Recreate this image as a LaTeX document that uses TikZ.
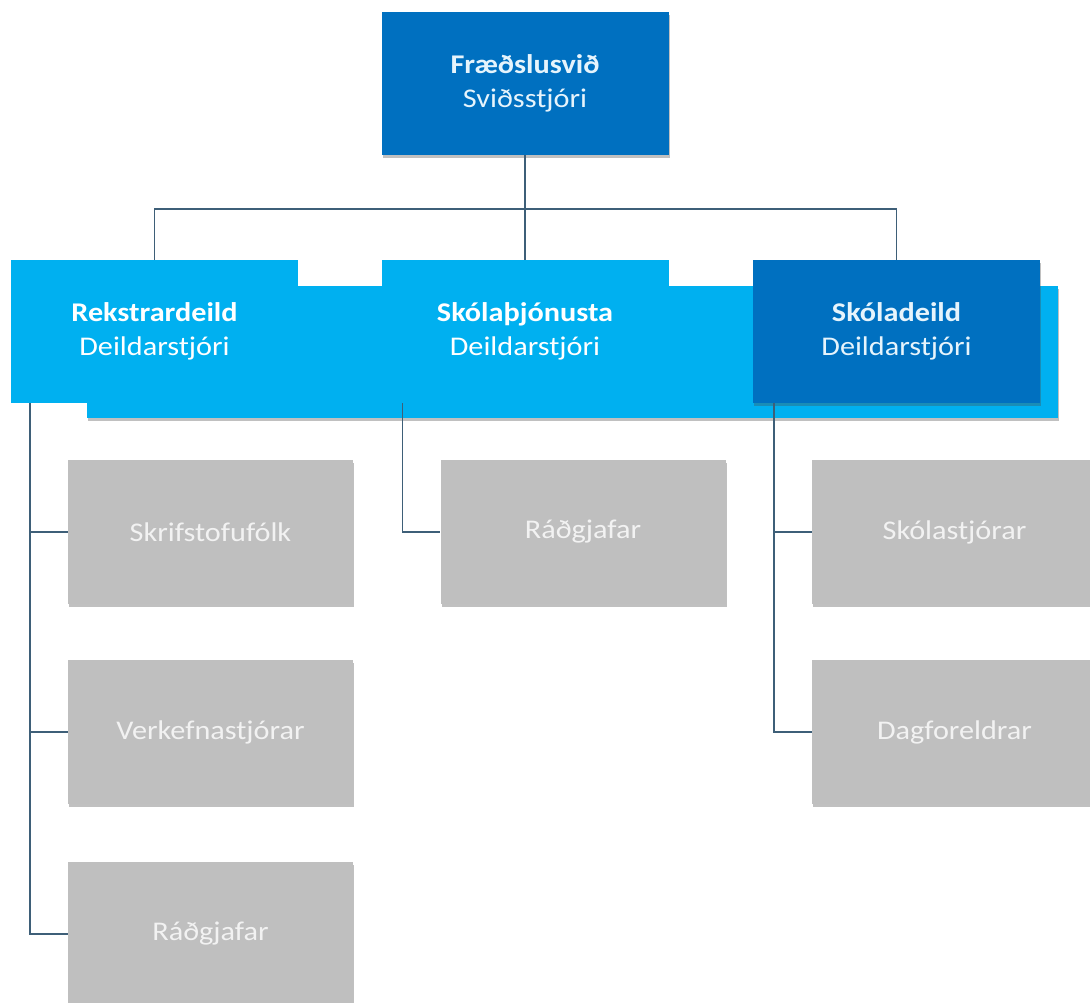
\documentclass[tikz,border=0pt]{standalone}
\usepackage{fontspec}
\setmainfont[FakeStretch=1.12]{Carlito}
\usetikzlibrary{shadows}
\definecolor{darkblue}{HTML}{0070C0}
\definecolor{lightblue}{HTML}{00B0F0}
\definecolor{boxgray}{HTML}{BFBFBF}
\definecolor{linecol}{HTML}{3E5F78}
\definecolor{paletext}{HTML}{E6F4FC}
\tikzset{
  shad/.style={drop shadow={shadow xshift=1pt, shadow yshift=-3pt, opacity=0.35, fill=black!70}},
  headbox/.style={rectangle, inner sep=0pt, minimum width=287pt, minimum height=143pt,
    align=center, font=\fontsize{27}{34}\selectfont, text=paletext},
  darkbox/.style={headbox, fill=darkblue, shad},
  lightbox/.style={headbox, fill=lightblue, text=white},
  graybox/.style={rectangle, inner sep=0pt, minimum width=285pt, minimum height=144pt,
    align=center, font=\fontsize{27}{34}\selectfont, text=white!95!black, fill=boxgray, shad},
  conn/.style={draw=linecol, line width=1.6pt}
}
\begin{document}
\begin{tikzpicture}[x=1pt,y=-1pt]
\useasboundingbox[fill=white] (0,0) rectangle (1090,1002);
% band
\fill[lightblue, shad] (87,286) rectangle (1058,418);
% heads
\node[darkbox] (top) at (525,83.5) {\textbf{Fræðslusvið}\\Sviðsstjóri};
\coordinate (bus) at (525,209);
\draw[conn] (top.south) -- (bus);
\node[lightbox] (rek) at (154.5,331.5) {\textbf{Rekstrardeild}\\Deildarstjóri};
\node[lightbox] (sko) at (525,331.5) {\textbf{Skólaþjónusta}\\Deildarstjóri};
\node[darkbox] (skd) at (896.5,331.5) {\textbf{Skóladeild}\\Deildarstjóri};
\draw[conn] (rek.north) |- (bus) -| (skd.north);
\draw[conn] (bus) -- (sko.north);
% gray boxes
\node[graybox] (g1) at (210.5,532) {Skrifstofufólk};
\node[graybox] (g2) at (210.5,732) {Verkefnastjórar};
\node[graybox] (g3) at (210.5,934) {Ráðgjafar};
\node[graybox] (g4) at (583,532) {Ráðgjafar};
\node[graybox] (g5) at (954.5,532) {Skólastjórar};
\node[graybox] (g6) at (954.5,732) {Dagforeldrar};
% branch connectors
\draw[conn] ([xshift=19pt]rek.south west) |- (g1.west);
\draw[conn] ([xshift=19pt]rek.south west) |- (g2.west);
\draw[conn] ([xshift=19pt]rek.south west) |- (g3.west);
\draw[conn] ([xshift=21pt]sko.south west) |- (g4.west);
\draw[conn] ([xshift=21pt]skd.south west) |- (g5.west);
\draw[conn] ([xshift=21pt]skd.south west) |- (g6.west);
\end{tikzpicture}
\end{document}
